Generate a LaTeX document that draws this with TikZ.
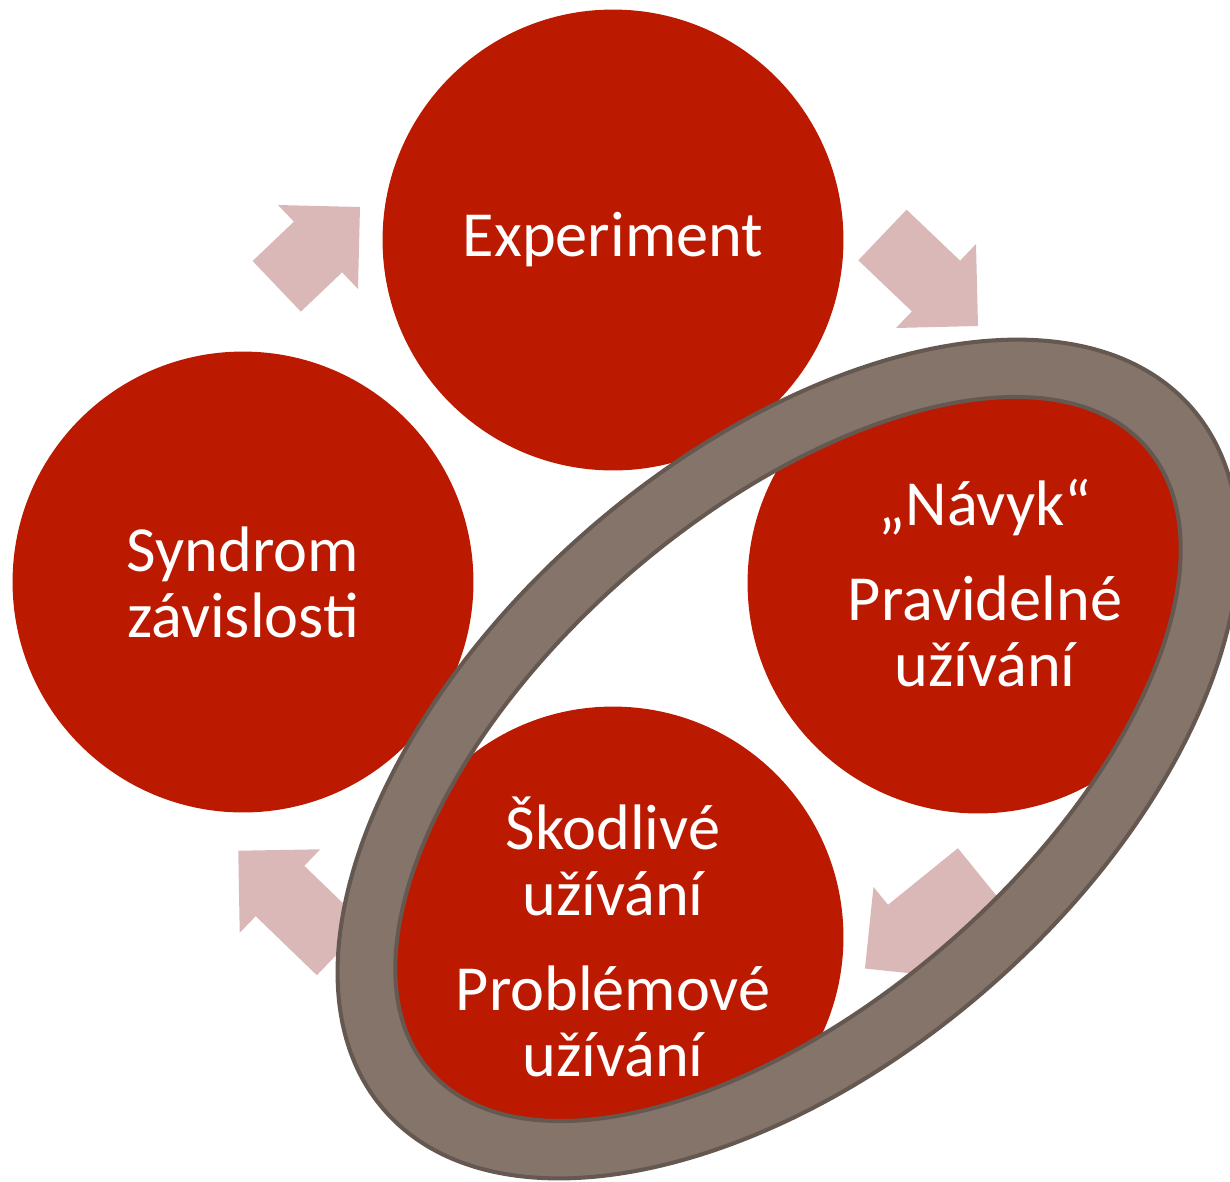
\documentclass[tikz,border=0pt]{standalone}
\usepackage{fontspec}
\setmainfont{Carlito}
\definecolor{stagered}{HTML}{BC1A00}
\definecolor{arrowpink}{HTML}{DBB8B8}
\definecolor{ringfill}{HTML}{85746A}
\definecolor{ringline}{HTML}{655850}
\tikzset{
  stage/.style={circle, fill=stagered, minimum size=9.22cm, inner sep=0pt,
    text=white, align=center, font=\fontsize{36.6}{37.5}\selectfont},
  blockarrow/.style={fill=arrowpink},
  band/.style={fill=ringfill, draw=ringline, line width=2.3pt, even odd rule}
}
% block arrow: centre of head base, direction, shaft length
\newcommand{\cyclearrow}[3]{%
  \fill[blockarrow, shift={#1}, rotate=#2]
    (-#3,-35) -- (0,-35) -- (0,-58) -- (58,0) -- (0,58) -- (0,35) -- (-#3,35) -- cycle;
}
\begin{document}
\begin{tikzpicture}[x=0.02cm, y=-0.02cm]
  \useasboundingbox (0,0) rectangle (1230,1181);

  % arrows between the stages
  \cyclearrow{(318,247)}{43.6}{57}
  \cyclearrow{(936,286)}{-43.6}{74}
  \cyclearrow{(910,932)}{-141}{90}
  \cyclearrow{(280,891)}{136}{85}

  % the four stages
  \node[stage] (experiment) at (613,240) {Experiment};
  \node[stage] (navyk) at (978,583) {\hspace*{8pt}„Návyk“\\[17pt]\hspace*{8pt}Pravidelné\\\hspace*{8pt}užívání};
  \node[stage] (skodlive) at (613,937) {Škodlivé\\užívání\\[17pt]Problémové\\užívání};
  \node[stage] (syndrom) at (243,582) {Syndrom\\závislosti};

  % ring round the middle stages
  \draw[band, rotate around={41:(788,759)}]
    (788,759) ellipse [x radius=535, y radius=304]
    (788,759) ellipse [x radius=475, y radius=244];
\end{tikzpicture}
\end{document}
